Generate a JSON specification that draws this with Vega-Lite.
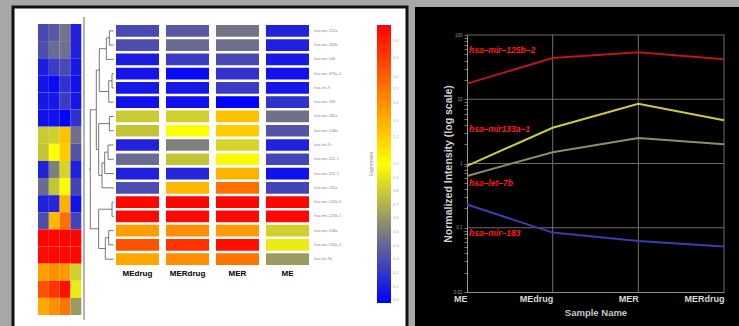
{
  "$schema": "https://vega.github.io/schema/vega-lite/v6.json",
  "background": "#a8a8a8",
  "padding": {"left": 11, "top": 5, "right": 0, "bottom": 0},
  "bounds": "flush",
  "spacing": 8,
  "config": {"font": "Liberation Sans", "view": {"stroke": null}},
  "resolve": {"scale": {"x": "independent", "y": "independent", "color": "independent", "stroke": "independent"}},
  "datasets": {
    "cells": [
      {"mirna": "hsa-mir-122a", "sample": "MEdrug", "level": 0.15}, {"mirna": "hsa-mir-122a", "sample": "MERdrug", "level": 0.18}, {"mirna": "hsa-mir-122a", "sample": "MER", "level": 0.235}, {"mirna": "hsa-mir-122a", "sample": "ME", "level": 0.07},
      {"mirna": "hsa-mir-181b", "sample": "MEdrug", "level": 0.16}, {"mirna": "hsa-mir-181b", "sample": "MERdrug", "level": 0.22}, {"mirna": "hsa-mir-181b", "sample": "MER", "level": 0.23}, {"mirna": "hsa-mir-181b", "sample": "ME", "level": 0.065},
      {"mirna": "hsa-mir-140", "sample": "MEdrug", "level": 0.06}, {"mirna": "hsa-mir-140", "sample": "MERdrug", "level": 0.12}, {"mirna": "hsa-mir-140", "sample": "MER", "level": 0.15}, {"mirna": "hsa-mir-140", "sample": "ME", "level": 0.05},
      {"mirna": "hsa-mir-373a-2", "sample": "MEdrug", "level": 0.04}, {"mirna": "hsa-mir-373a-2", "sample": "MERdrug", "level": 0.02}, {"mirna": "hsa-mir-373a-2", "sample": "MER", "level": 0.1}, {"mirna": "hsa-mir-373a-2", "sample": "ME", "level": 0.035},
      {"mirna": "hsa-let-7i", "sample": "MEdrug", "level": 0.05}, {"mirna": "hsa-let-7i", "sample": "MERdrug", "level": 0.05}, {"mirna": "hsa-let-7i", "sample": "MER", "level": 0.12}, {"mirna": "hsa-let-7i", "sample": "ME", "level": 0.045},
      {"mirna": "hsa-mir-183", "sample": "MEdrug", "level": 0.035}, {"mirna": "hsa-mir-183", "sample": "MERdrug", "level": 0.035}, {"mirna": "hsa-mir-183", "sample": "MER", "level": 0.0}, {"mirna": "hsa-mir-183", "sample": "ME", "level": 0.1},
      {"mirna": "hsa-mir-181a", "sample": "MEdrug", "level": 0.4}, {"mirna": "hsa-mir-181a", "sample": "MERdrug", "level": 0.41}, {"mirna": "hsa-mir-181a", "sample": "MER", "level": 0.62}, {"mirna": "hsa-mir-181a", "sample": "ME", "level": 0.23},
      {"mirna": "hsa-mir-126b", "sample": "MEdrug", "level": 0.39}, {"mirna": "hsa-mir-126b", "sample": "MERdrug", "level": 0.5}, {"mirna": "hsa-mir-126b", "sample": "MER", "level": 0.6}, {"mirna": "hsa-mir-126b", "sample": "ME", "level": 0.17},
      {"mirna": "hsa-let-7c", "sample": "MEdrug", "level": 0.07}, {"mirna": "hsa-let-7c", "sample": "MERdrug", "level": 0.26}, {"mirna": "hsa-let-7c", "sample": "MER", "level": 0.42}, {"mirna": "hsa-let-7c", "sample": "ME", "level": 0.065},
      {"mirna": "hsa-mir-221-1", "sample": "MEdrug", "level": 0.22}, {"mirna": "hsa-mir-221-1", "sample": "MERdrug", "level": 0.39}, {"mirna": "hsa-mir-221-1", "sample": "MER", "level": 0.49}, {"mirna": "hsa-mir-221-1", "sample": "ME", "level": 0.14},
      {"mirna": "hsa-mir-221-2", "sample": "MEdrug", "level": 0.065}, {"mirna": "hsa-mir-221-2", "sample": "MERdrug", "level": 0.08}, {"mirna": "hsa-mir-221-2", "sample": "MER", "level": 0.65}, {"mirna": "hsa-mir-221-2", "sample": "ME", "level": 0.035},
      {"mirna": "hsa-mir-125a", "sample": "MEdrug", "level": 0.155}, {"mirna": "hsa-mir-125a", "sample": "MERdrug", "level": 0.64}, {"mirna": "hsa-mir-125a", "sample": "MER", "level": 0.78}, {"mirna": "hsa-mir-125a", "sample": "ME", "level": 0.14},
      {"mirna": "hsa-mir-125b-2", "sample": "MEdrug", "level": 0.99}, {"mirna": "hsa-mir-125b-2", "sample": "MERdrug", "level": 0.99}, {"mirna": "hsa-mir-125b-2", "sample": "MER", "level": 0.99}, {"mirna": "hsa-mir-125b-2", "sample": "ME", "level": 0.99},
      {"mirna": "hsa-mir-125b-1", "sample": "MEdrug", "level": 0.98}, {"mirna": "hsa-mir-125b-1", "sample": "MERdrug", "level": 0.985}, {"mirna": "hsa-mir-125b-1", "sample": "MER", "level": 0.98}, {"mirna": "hsa-mir-125b-1", "sample": "ME", "level": 0.985},
      {"mirna": "hsa-mir-128a", "sample": "MEdrug", "level": 0.69}, {"mirna": "hsa-mir-128a", "sample": "MERdrug", "level": 0.72}, {"mirna": "hsa-mir-128a", "sample": "MER", "level": 0.7}, {"mirna": "hsa-mir-128a", "sample": "ME", "level": 0.41},
      {"mirna": "hsa-mir-133a-1", "sample": "MEdrug", "level": 0.84}, {"mirna": "hsa-mir-133a-1", "sample": "MERdrug", "level": 0.9}, {"mirna": "hsa-mir-133a-1", "sample": "MER", "level": 0.97}, {"mirna": "hsa-mir-133a-1", "sample": "ME", "level": 0.46},
      {"mirna": "hsa-let-7b", "sample": "MEdrug", "level": 0.67}, {"mirna": "hsa-let-7b", "sample": "MERdrug", "level": 0.72}, {"mirna": "hsa-let-7b", "sample": "MER", "level": 0.77}, {"mirna": "hsa-let-7b", "sample": "ME", "level": 0.31}
    ],
    "dendro": [
      {"h1": 13, "h2": 13, "v1": 0, "v2": 1}, {"h1": 0, "h2": 13, "v1": 0, "v2": 0}, {"h1": 0, "h2": 13, "v1": 1, "v2": 1},
      {"h1": 22, "h2": 22, "v1": 0.5, "v2": 2}, {"h1": 13, "h2": 22, "v1": 0.5, "v2": 0.5}, {"h1": 0, "h2": 22, "v1": 2, "v2": 2},
      {"h1": 5, "h2": 5, "v1": 3, "v2": 4}, {"h1": 0, "h2": 5, "v1": 3, "v2": 3}, {"h1": 0, "h2": 5, "v1": 4, "v2": 4},
      {"h1": 15, "h2": 15, "v1": 3.5, "v2": 5}, {"h1": 5, "h2": 15, "v1": 3.5, "v2": 3.5}, {"h1": 0, "h2": 15, "v1": 5, "v2": 5},
      {"h1": 43, "h2": 43, "v1": 1.25, "v2": 4.25}, {"h1": 22, "h2": 43, "v1": 1.25, "v2": 1.25}, {"h1": 15, "h2": 43, "v1": 4.25, "v2": 4.25},
      {"h1": 13, "h2": 13, "v1": 6, "v2": 7}, {"h1": 0, "h2": 13, "v1": 6, "v2": 6}, {"h1": 0, "h2": 13, "v1": 7, "v2": 7},
      {"h1": 17, "h2": 17, "v1": 8, "v2": 9}, {"h1": 0, "h2": 17, "v1": 8, "v2": 8}, {"h1": 0, "h2": 17, "v1": 9, "v2": 9},
      {"h1": 27, "h2": 27, "v1": 8.5, "v2": 10}, {"h1": 17, "h2": 27, "v1": 8.5, "v2": 8.5}, {"h1": 0, "h2": 27, "v1": 10, "v2": 10},
      {"h1": 35, "h2": 35, "v1": 9.25, "v2": 11}, {"h1": 27, "h2": 35, "v1": 9.25, "v2": 9.25}, {"h1": 0, "h2": 35, "v1": 11, "v2": 11},
      {"h1": 45, "h2": 45, "v1": 6.5, "v2": 10.125}, {"h1": 13, "h2": 45, "v1": 6.5, "v2": 6.5}, {"h1": 35, "h2": 45, "v1": 10.125, "v2": 10.125},
      {"h1": 52, "h2": 52, "v1": 2.75, "v2": 8.3125}, {"h1": 43, "h2": 52, "v1": 2.75, "v2": 2.75}, {"h1": 45, "h2": 52, "v1": 8.3125, "v2": 8.3125},
      {"h1": 5, "h2": 5, "v1": 12, "v2": 13}, {"h1": 0, "h2": 5, "v1": 12, "v2": 12}, {"h1": 0, "h2": 5, "v1": 13, "v2": 13},
      {"h1": 15, "h2": 15, "v1": 14, "v2": 15}, {"h1": 0, "h2": 15, "v1": 14, "v2": 14}, {"h1": 0, "h2": 15, "v1": 15, "v2": 15},
      {"h1": 25, "h2": 25, "v1": 14.5, "v2": 16}, {"h1": 15, "h2": 25, "v1": 14.5, "v2": 14.5}, {"h1": 0, "h2": 25, "v1": 16, "v2": 16},
      {"h1": 45, "h2": 45, "v1": 12.5, "v2": 15.25}, {"h1": 5, "h2": 45, "v1": 12.5, "v2": 12.5}, {"h1": 25, "h2": 45, "v1": 15.25, "v2": 15.25},
      {"h1": 70, "h2": 70, "v1": 5.53, "v2": 13.875}, {"h1": 52, "h2": 70, "v1": 5.53, "v2": 5.53}, {"h1": 45, "h2": 70, "v1": 13.875, "v2": 13.875},
      {"h1": 70, "h2": 74, "v1": 9.7, "v2": 9.7}
    ],
    "divider": [{"h": 88.8, "v1": -0.97, "v2": 20.26}],
    "lines": [
      {"mirna": "hsa-mir-125b-2", "sample": "ME", "value": 17.5}, {"mirna": "hsa-mir-125b-2", "sample": "MEdrug", "value": 43.9}, {"mirna": "hsa-mir-125b-2", "sample": "MER", "value": 54}, {"mirna": "hsa-mir-125b-2", "sample": "MERdrug", "value": 41.9},
      {"mirna": "hsa-mir-133a-1", "sample": "ME", "value": 0.92}, {"mirna": "hsa-mir-133a-1", "sample": "MEdrug", "value": 3.6}, {"mirna": "hsa-mir-133a-1", "sample": "MER", "value": 8.5}, {"mirna": "hsa-mir-133a-1", "sample": "MERdrug", "value": 4.7},
      {"mirna": "hsa-let-7b", "sample": "ME", "value": 0.64}, {"mirna": "hsa-let-7b", "sample": "MEdrug", "value": 1.5}, {"mirna": "hsa-let-7b", "sample": "MER", "value": 2.5}, {"mirna": "hsa-let-7b", "sample": "MERdrug", "value": 2.0},
      {"mirna": "hsa-mir-183", "sample": "ME", "value": 0.23}, {"mirna": "hsa-mir-183", "sample": "MEdrug", "value": 0.084}, {"mirna": "hsa-mir-183", "sample": "MER", "value": 0.062}, {"mirna": "hsa-mir-183", "sample": "MERdrug", "value": 0.051}
    ],
    "labels": [
      {"label": "hsa–mir–125b–2", "sample": "ME", "value": 58.4},
      {"label": "hsa–mir133a–1", "sample": "ME", "value": 3.44},
      {"label": "hsa–let–7b", "sample": "ME", "value": 0.497},
      {"label": "hsa–mir–183", "sample": "ME", "value": 0.0828}
    ],
    "hgrid": [{"value": 0.1}, {"value": 1}, {"value": 10}, {"value": 100}],
    "vgrid": [{"sample": "MEdrug"}, {"sample": "MER"}, {"sample": "MERdrug"}]
  },
  "hconcat": [
    {
      "width": 394,
      "height": 324,
      "view": {"fill": "white", "stroke": "#111111", "strokeWidth": 3},
      "resolve": {"scale": {"x": "independent", "y": "independent"}, "axis": {"x": "independent", "y": "independent"}},
      "layer": [
        {
          "data": {"name": "cells"},
          "mark": {"type": "rect"},
          "encoding": {
            "x": {"field": "sample", "type": "nominal", "scale": {"domain": ["MEdrug", "MERdrug", "MER", "ME"], "range": [25, 68.3], "paddingInner": 0, "paddingOuter": 0}, "axis": null},
            "y": {"field": "mirna", "type": "nominal", "scale": {"domain": ["hsa-mir-122a", "hsa-mir-181b", "hsa-mir-140", "hsa-mir-373a-2", "hsa-let-7i", "hsa-mir-183", "hsa-mir-181a", "hsa-mir-126b", "hsa-let-7c", "hsa-mir-221-1", "hsa-mir-221-2", "hsa-mir-125a", "hsa-mir-125b-2", "hsa-mir-125b-1", "hsa-mir-128a", "hsa-mir-133a-1", "hsa-let-7b"], "range": [17, 308], "paddingInner": 0, "paddingOuter": 0}, "axis": null},
            "color": {
              "field": "level", "type": "quantitative",
              "scale": {"domain": [0, 0.25, 0.5, 1], "range": ["#0000ff", "#7a7a82", "#ffff00", "#ff0000"], "interpolate": "rgb"},
              "legend": {"orient": "none", "legendX": 356, "legendY": 18, "direction": "vertical", "gradientLength": 278, "gradientThickness": 14, "gradientStrokeWidth": 0, "title": "Expression", "titleOrient": "left", "titleAngle": 270, "titleFontSize": 5, "titleColor": "#888888", "titleFontWeight": "normal", "titleAnchor": "middle", "titlePadding": 2, "labelFontSize": 4, "labelColor": "#aaaaaa", "labelOffset": 2, "labelOverlap": false, "tickCount": 18,
                "values": [0.01, 0.059, 0.108, 0.157, 0.206, 0.255, 0.304, 0.353, 0.402, 0.451, 0.5, 0.597, 0.654, 0.719, 0.769, 0.812, 0.88, 0.942],
                "labelExpr": "['0.0','0.1','0.2','0.3','0.4','0.5','0.6','0.7','0.8','0.9','1.0','1.2','1.5','2.0','2.5','3.0','4.0','5.0'][indexof([0.01,0.059,0.108,0.157,0.206,0.255,0.304,0.353,0.402,0.451,0.5,0.597,0.654,0.719,0.769,0.812,0.88,0.942], datum.value)]"}
            }
          }
        },
        {
          "data": {"name": "divider"},
          "mark": {"type": "rule", "color": "#9a9a9a", "strokeWidth": 1.5},
          "encoding": {
            "x": {"field": "h", "type": "quantitative", "scale": {"domain": [0, 70], "range": [100.7, 77.3], "nice": false, "zero": false}, "axis": null},
            "y": {"field": "v1", "type": "quantitative", "scale": {"domain": [0, 16], "range": [23.85, 252.17], "nice": false, "zero": false}, "axis": null},
            "y2": {"field": "v2"}
          }
        },
        {
          "data": {"name": "dendro"},
          "mark": {"type": "rule", "color": "#555555", "strokeWidth": 0.8},
          "encoding": {
            "x": {"field": "h1", "type": "quantitative", "scale": {"domain": [0, 70], "range": [100.7, 77.3], "nice": false, "zero": false}, "axis": null},
            "x2": {"field": "h2"},
            "y": {"field": "v1", "type": "quantitative", "scale": {"domain": [0, 16], "range": [23.85, 252.17], "nice": false, "zero": false}, "axis": null},
            "y2": {"field": "v2"}
          }
        },
        {
          "data": {"name": "cells"},
          "mark": {"type": "rect"},
          "encoding": {
            "x": {"field": "sample", "type": "nominal", "scale": {"domain": ["MEdrug", "MERdrug", "MER", "ME"], "range": [103, 296], "paddingInner": 0.14, "paddingOuter": 0},
              "axis": {"orient": "bottom", "offset": -65, "domain": false, "ticks": false, "grid": false, "labelPadding": 3, "labelFontSize": 8, "labelFontWeight": "bold", "labelColor": "#000000", "labelAngle": 0, "title": null}},
            "y": {"field": "mirna", "type": "nominal", "scale": {"domain": ["hsa-mir-122a", "hsa-mir-181b", "hsa-mir-140", "hsa-mir-373a-2", "hsa-let-7i", "hsa-mir-183", "hsa-mir-181a", "hsa-mir-126b", "hsa-let-7c", "hsa-mir-221-1", "hsa-mir-221-2", "hsa-mir-125a", "hsa-mir-125b-2", "hsa-mir-125b-1", "hsa-mir-128a", "hsa-mir-133a-1", "hsa-let-7b"], "range": [18, 258], "paddingInner": 0.18, "paddingOuter": 0},
              "axis": {"orient": "right", "offset": -95.5, "domain": false, "ticks": false, "grid": false, "labelPadding": 2, "labelFontSize": 4, "labelColor": "#888888", "labelOverlap": false, "title": null}},
            "color": {
              "field": "level", "type": "quantitative",
              "scale": {"domain": [0, 0.25, 0.5, 1], "range": ["#0000ff", "#7a7a82", "#ffff00", "#ff0000"], "interpolate": "rgb"},
              "legend": {"orient": "none", "legendX": 356, "legendY": 18, "direction": "vertical", "gradientLength": 278, "gradientThickness": 14, "gradientStrokeWidth": 0, "title": "Expression", "titleOrient": "left", "titleAngle": 270, "titleFontSize": 5, "titleColor": "#888888", "titleFontWeight": "normal", "titleAnchor": "middle", "titlePadding": 2, "labelFontSize": 4, "labelColor": "#aaaaaa", "labelOffset": 2, "labelOverlap": false, "tickCount": 18,
                "values": [0.01, 0.059, 0.108, 0.157, 0.206, 0.255, 0.304, 0.353, 0.402, 0.451, 0.5, 0.597, 0.654, 0.719, 0.769, 0.812, 0.88, 0.942],
                "labelExpr": "['0.0','0.1','0.2','0.3','0.4','0.5','0.6','0.7','0.8','0.9','1.0','1.2','1.5','2.0','2.5','3.0','4.0','5.0'][indexof([0.01,0.059,0.108,0.157,0.206,0.255,0.304,0.353,0.402,0.451,0.5,0.597,0.654,0.719,0.769,0.812,0.88,0.942], datum.value)]"}
            }
          }
        }
      ]
    },
    {
      "width": 326,
      "height": 324,
      "view": {"fill": "#000000", "stroke": null},
      "layer": [
        {
          "data": {"name": "hgrid"},
          "mark": {"type": "rule", "color": "#6e6e6e", "strokeWidth": 1},
          "encoding": {
            "x": {"datum": "ME", "type": "nominal"},
            "x2": {"datum": "MERdrug"},
            "y": {"field": "value", "type": "quantitative"}
          }
        },
        {
          "data": {"name": "vgrid"},
          "mark": {"type": "rule", "color": "#6e6e6e", "strokeWidth": 1},
          "encoding": {
            "x": {"field": "sample", "type": "nominal"},
            "y": {"datum": 0.01, "type": "quantitative"},
            "y2": {"datum": 100}
          }
        },
        {
          "data": {"name": "lines"},
          "mark": {"type": "line", "strokeWidth": 2},
          "encoding": {
            "x": {"field": "sample", "type": "nominal", "sort": null,
              "scale": {"type": "point", "domain": ["ME", "MEdrug", "MER", "MERdrug"], "range": [52, 309], "padding": 0},
              "axis": {"orient": "bottom", "offset": -39, "domain": true, "domainColor": "#8a8a8a", "domainWidth": 1, "ticks": false, "grid": false, "labelPadding": 6, "labelFontSize": 9, "labelFontWeight": "bold", "labelColor": "#d8d8d8", "labelAngle": 0, "labelFlush": true, "title": "Sample Name", "titleColor": "#c8c8c8", "titleFontSize": 9.5, "titleFontWeight": "bold", "titlePadding": 4}},
            "y": {"field": "value", "type": "quantitative",
              "scale": {"type": "log", "domain": [0.01, 100], "range": [285, 28], "nice": false},
              "axis": {"orient": "left", "offset": -52, "domain": true, "domainColor": "#9a9a9a", "domainWidth": 1, "grid": false,
                "values": [0.01, 0.02, 0.03, 0.04, 0.05, 0.06, 0.07, 0.08, 0.09, 0.1, 0.2, 0.3, 0.4, 0.5, 0.6, 0.7, 0.8, 0.9, 1, 2, 3, 4, 5, 6, 7, 8, 9, 10, 20, 30, 40, 50, 60, 70, 80, 90, 100],
                "labelExpr": "indexof([0.01,0.1,1,10,100], datum.value) >= 0 ? ['0.01','0.1','1','10','100'][indexof([0.01,0.1,1,10,100], datum.value)] : ''",
                "tickColor": "#777777", "tickSize": 3, "labelFontSize": 4.5, "labelColor": "#999999", "labelPadding": 2, "labelOverlap": false,
                "title": "Normalized Intensity (log scale)", "titleColor": "#d0d0d0", "titleFontSize": 10.5, "titleFontWeight": "bold", "titlePadding": 0}},
            "stroke": {"field": "mirna", "type": "nominal",
              "scale": {"domain": ["hsa-mir-125b-2", "hsa-mir-133a-1", "hsa-let-7b", "hsa-mir-183"], "range": ["#b81818", "#cccc3c", "#8e8e5e", "#3c3cac"]},
              "legend": null}
          }
        },
        {
          "data": {"name": "labels"},
          "mark": {"type": "text", "align": "left", "baseline": "middle", "dx": 2, "fontStyle": "italic", "fontWeight": "bold", "fontSize": 8.5, "color": "#ff1a1a"},
          "encoding": {
            "x": {"field": "sample", "type": "nominal"},
            "y": {"field": "value", "type": "quantitative"},
            "text": {"field": "label"}
          }
        }
      ]
    }
  ]
}
